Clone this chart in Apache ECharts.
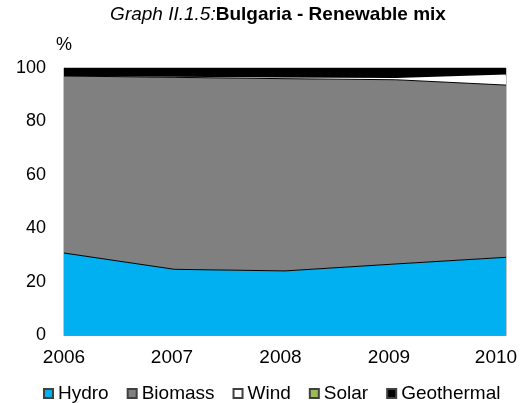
<!DOCTYPE html>
<html>
<head>
<meta charset="utf-8">
<script src="https://cdn.jsdelivr.net/npm/echarts@6/dist/echarts.min.js"></script>
<style>html,body{margin:0;padding:0;background:#fff}#c{width:531px;height:403px}</style>
</head>
<body>
<div id="c"></div>
<script>
var years = ['2006', '2007', '2008', '2009', '2010'];
var hydro = [30.7, 24.6, 24.0, 26.6, 29.1];
var biomass = [66.3, 71.9, 72.0, 69.0, 64.5];
var wind = [0, 0.2, 0.4, 0.7, 3.5];
var solar = [0, 0, 0, 0, 0.5];
var geothermal = [3.0, 3.3, 3.6, 3.7, 2.4];
var yTicks = [0, 20, 40, 60, 80, 100];

var FONT = '"Liberation Sans", Arial, sans-serif';
var labelPad = [0, 5, 9, 13, 20];
var rich = {};
labelPad.forEach(function (p, i) { rich['p' + i] = { padding: [0, p, 0, 0], fontSize: 19, color: '#000', fontFamily: FONT }; });

function mk(name, data, color, lineColor, lineWidth, border) {
  return {
    name: name, type: 'line', stack: 'total', data: data,
    symbol: 'none', smooth: false,
    lineStyle: { color: lineColor, width: lineWidth },
    areaStyle: { color: color, opacity: 1 },
    itemStyle: { color: color, borderColor: border, borderWidth: 1 },
    emphasis: { disabled: true }
  };
}

var chart = echarts.init(document.getElementById('c'));
chart.setOption({
  animation: false,
  textStyle: { fontFamily: FONT },
  graphic: [{
    type: 'text', x: 278, y: 15,
    style: {
      text: '{i|Graph II.1.5:}{b|Bulgaria - Renewable mix}',
      align: 'center', verticalAlign: 'middle',
      rich: {
        i: { fontStyle: 'italic', fontSize: 19, fontFamily: FONT, fill: '#000', color: '#000' },
        b: { fontWeight: 'bold', fontSize: 19, fontFamily: FONT, fill: '#000', color: '#000' }
      }
    }
  }],
  grid: { left: 64, right: 25, top: 68, bottom: 68, show: true, borderColor: '#888', borderWidth: 1, backgroundColor: 'transparent' },
  legend: {
    left: 38, top: 379, itemWidth: 9, itemHeight: 9, itemGap: 18, icon: 'rect',
    textStyle: { fontSize: 19, color: '#000', fontFamily: FONT },
    data: ['Hydro', 'Biomass', 'Wind', 'Solar', 'Geothermal']
  },
  xAxis: {
    type: 'category', data: years, boundaryGap: false,
    axisLine: { show: true, lineStyle: { color: '#888', width: 1 } },
    axisTick: { show: false },
    axisLabel: {
      margin: 13, fontSize: 19, color: '#000', fontFamily: FONT,
      formatter: function (v, i) { return '{p' + i + '|' + v + '}'; },
      rich: rich
    }
  },
  yAxis: {
    type: 'value', min: yTicks[0], max: yTicks[yTicks.length - 1], interval: 20,
    name: '%', nameLocation: 'end', nameGap: 14,
    nameTextStyle: { fontSize: 18, color: '#000', fontFamily: FONT, align: 'center' },
    axisLine: { show: true, lineStyle: { color: '#888', width: 1 } },
    axisTick: { show: true, inside: true, length: 5, lineStyle: { color: '#888' } },
    splitLine: { show: false },
    axisLabel: { margin: 18, fontSize: 18, color: '#000', fontFamily: FONT }
  },
  series: [
    mk('Hydro', hydro, '#00B0F0', '#000', 1, '#404040'),
    mk('Biomass', biomass, '#808080', '#000', 1, '#404040'),
    mk('Wind', wind, '#FFFFFF', '#FFFFFF', 0, '#404040'),
    mk('Solar', solar, '#9BBB59', '#9BBB59', 0, '#404040'),
    mk('Geothermal', geothermal, '#000000', '#000000', 0, '#404040')
  ]
});
</script>
</body>
</html>
